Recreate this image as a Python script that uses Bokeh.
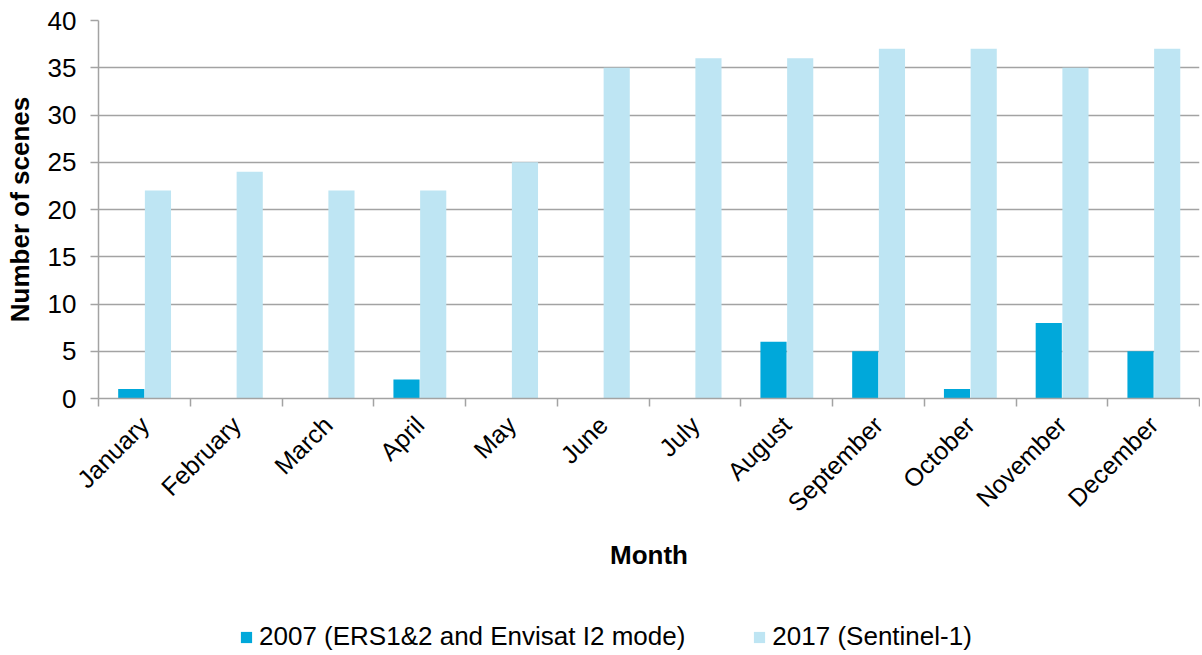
from bokeh.plotting import figure
from bokeh.layouts import column
from bokeh.models import Range1d, FixedTicker, Legend, LegendItem, ColumnDataSource
from bokeh.embed import file_html
from bokeh.resources import INLINE
import math

months = ["January", "February", "March", "April", "May", "June", "July",
          "August", "September", "October", "November", "December"]
s2007 = [1, 0, 0, 2, 0, 0, 0, 6, 5, 1, 8, 5]
s2017 = [22, 24, 22, 22, 25, 35, 36, 36, 37, 37, 35, 37]
label2007 = "2007 (ERS1&2 and Envisat I2 mode)"
label2017 = "2017 (Sentinel-1)"

FONT = "Liberation Sans"
GRID = "#a3a3a3"
C1 = "#00a8da"
C2 = "#bee5f3"

centers = [i + 0.5 for i in range(len(months))]
src = ColumnDataSource(dict(
    x1=[c - 0.143 for c in centers],
    x2=[c + 0.148 for c in centers],
    a=s2007, b=s2017))

p = figure(frame_width=1101, frame_height=378, output_backend="svg", toolbar_location=None,
           x_range=Range1d(0, 12), y_range=Range1d(0, 40),
           min_border_left=98, min_border_right=1, min_border_top=20,
           min_border_bottom=202)
p.outline_line_color = None

r1 = p.vbar(x="x1", top="a", width=0.285, source=src, fill_color=C1, line_color=None)
r2 = p.vbar(x="x2", top="b", width=0.285, source=src, fill_color=C2, line_color=None)

p.xgrid.visible = False
p.ygrid.grid_line_color = GRID
p.ygrid.grid_line_width = 1.5

# y axis
p.yaxis.ticker = FixedTicker(ticks=list(range(0, 41, 5)))
p.yaxis.axis_label = "Number of scenes"
p.yaxis.axis_label_text_font = FONT
p.yaxis.axis_label_text_font_style = "bold"
p.yaxis.axis_label_text_font_size = "26px"
p.yaxis.axis_label_text_color = "#000000"
p.yaxis.axis_label_standoff = 10
p.yaxis.major_label_text_font = FONT
p.yaxis.major_label_text_font_size = "26px"
p.yaxis.major_label_text_color = "#000000"
p.yaxis.axis_line_color = GRID
p.yaxis.axis_line_width = 1.5
p.yaxis.major_tick_line_color = GRID
p.yaxis.major_tick_line_width = 1.5
p.yaxis.major_tick_out = 8
p.yaxis.major_tick_in = 0
p.yaxis.minor_tick_line_color = None
p.yaxis.major_label_standoff = 14

# x axis
p.xaxis.ticker = FixedTicker(ticks=centers, minor_ticks=list(range(0, 13)))
p.xaxis.major_label_overrides = {c: m for c, m in zip(centers, months)}
p.xaxis.major_label_orientation = math.pi / 4
p.xaxis.major_label_text_font = FONT
p.xaxis.major_label_text_font_size = "25px"
p.xaxis.major_label_text_color = "#000000"
p.xaxis.major_tick_line_color = None
p.xaxis.major_tick_out = 0
p.xaxis.major_tick_in = 0
p.xaxis.minor_tick_line_color = GRID
p.xaxis.minor_tick_line_width = 1.5
p.xaxis.minor_tick_out = 8
p.xaxis.minor_tick_in = 0
p.xaxis.axis_line_color = GRID
p.xaxis.axis_line_width = 1.5
p.xaxis.major_label_standoff = 14
p.xaxis.axis_label = "Month"
p.xaxis.axis_label_text_font = FONT
p.xaxis.axis_label_text_font_style = "bold"
p.xaxis.axis_label_text_font_size = "26px"
p.xaxis.axis_label_text_color = "#000000"
p.xaxis.axis_label_standoff = 10

# legend strip below the chart (its frame is aligned with the chart's frame)
lg = figure(width=1200, height=55, output_backend="svg", toolbar_location=None,
            x_range=Range1d(0, 1), y_range=Range1d(0, 1),
            min_border_left=0, min_border_right=0, min_border_top=0, min_border_bottom=0)
lg.axis.visible = False
lg.grid.visible = False
lg.outline_line_color = None
e = ColumnDataSource(dict(x=[-5.0], top=[0.0]))
d1 = lg.vbar(x="x", top="top", width=0.1, source=e, fill_color=C1, line_color=None)
d2 = lg.vbar(x="x", top="top", width=0.1, source=e, fill_color=C2, line_color=None)
legend = Legend(items=[LegendItem(label=label2007, renderers=[d1]),
                       LegendItem(label=label2017, renderers=[d2])],
                orientation="horizontal", location=(141, 3),
                label_text_font=FONT, label_text_font_size="26px",
                label_text_color="#000000",
                glyph_width=14, glyph_height=14, label_standoff=6,
                spacing=67, border_line_color=None, background_fill_alpha=0,
                margin=0, padding=0)
lg.add_layout(legend, "center")

layout = column(p, lg, spacing=0)
open("out.html", "w").write(file_html(layout, INLINE))
